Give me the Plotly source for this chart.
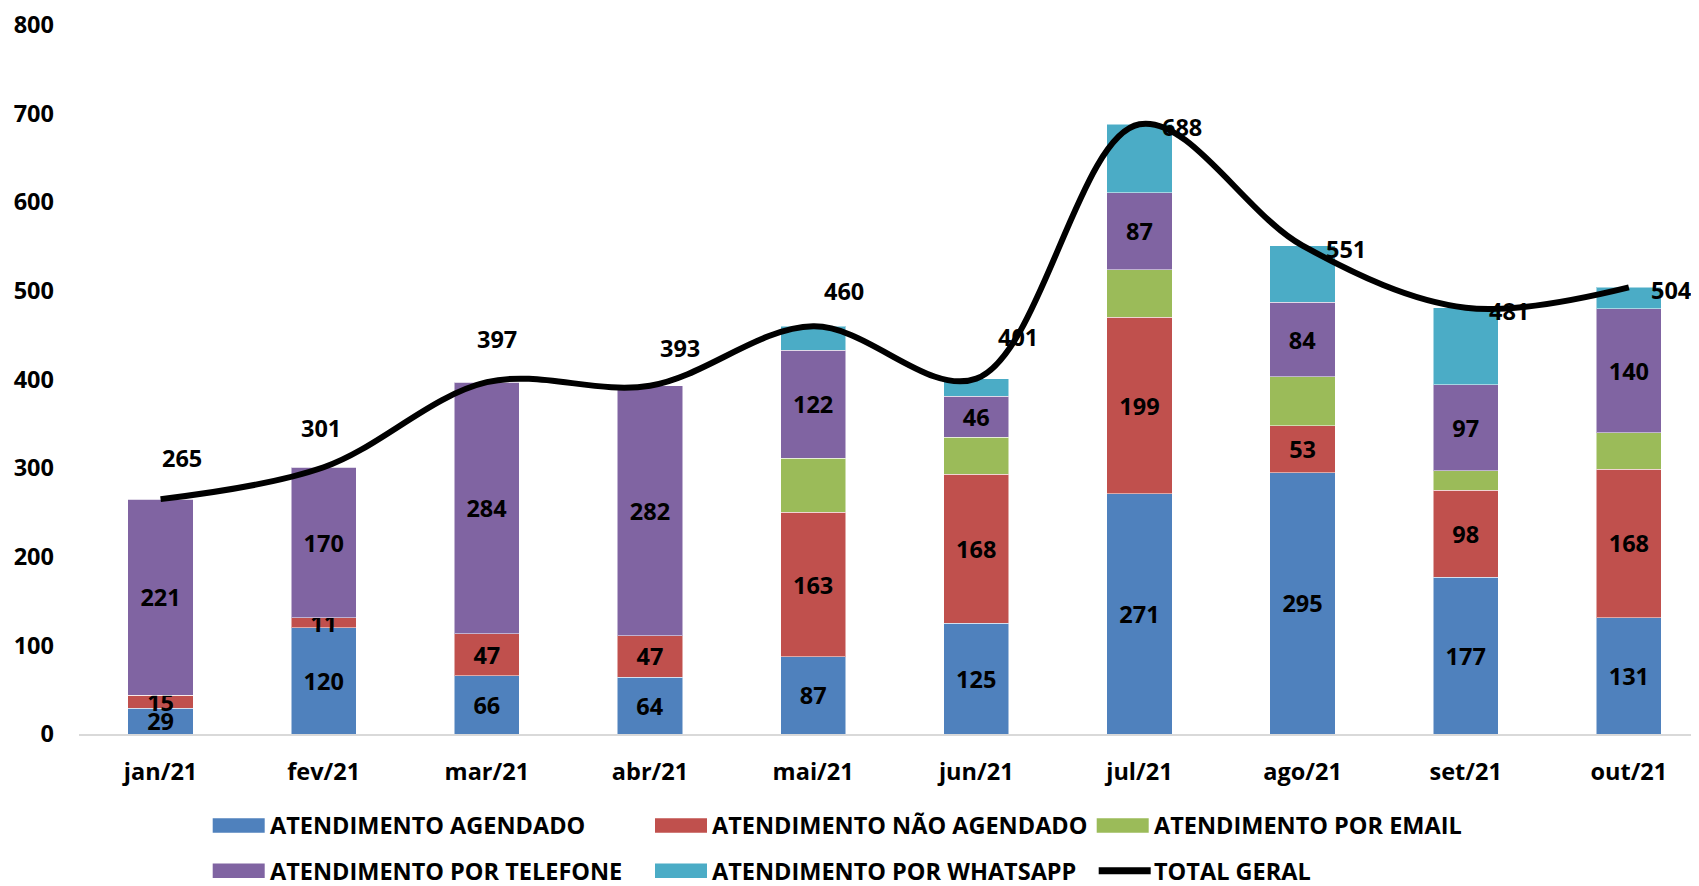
import plotly.graph_objects as go

months = ["jan/21", "fev/21", "mar/21", "abr/21", "mai/21", "jun/21", "jul/21", "ago/21", "set/21", "out/21"]
agendado = [29, 120, 66, 64, 87, 125, 271, 295, 177, 131]
nao_agendado = [15, 11, 47, 47, 163, 168, 199, 53, 98, 168]
email = [0, 0, 0, 0, 61, 42, 54, 55, 22, 41]
telefone = [221, 170, 284, 282, 122, 46, 87, 84, 97, 140]
whatsapp = [0, 0, 0, 0, 27, 20, 77, 64, 87, 24]
total_geral = [265, 301, 397, 393, 460, 401, 688, 551, 481, 504]

names = ["ATENDIMENTO AGENDADO", "ATENDIMENTO NÃO AGENDADO", "ATENDIMENTO POR EMAIL",
         "ATENDIMENTO POR TELEFONE", "ATENDIMENTO POR WHATSAPP", "TOTAL GERAL"]
colors = ["#4F81BD", "#C0504D", "#9BBB59", "#8064A2", "#4BACC6"]
show_labels = [True, True, False, True, False]

# label offsets for the total line (pixels)
total_xshift = [21, -3, 10, 30, 31, 42, 43, 43, 43, 43]
total_yshift = [41, 39, 43, 38, 35, 42, -3, -3, -3, -3]

FONT = "Open Sans"
FS = 23.5

# figure geometry (page has an 8px body margin)
W, H = 1691, 878
ML, MR, MT, MB = 71, 0, 17, 152
PW, PH = W - ML - MR, H - MT - MB


def px(xf):
    return (xf - ML) / PW


def py(yf):
    return (H - MB - yf) / PH


fig = go.Figure()
series = [agendado, nao_agendado, email, telefone, whatsapp]
for vals, name, col, lab in zip(series, names[:5], colors, show_labels):
    fig.add_trace(go.Bar(
        x=months, y=vals, name=name,
        marker=dict(color=col, line=dict(color="rgba(255,255,255,0.5)", width=1)),
        text=[str(v) for v in vals] if lab else None,
        textposition="inside" if lab else "none",
        insidetextanchor="middle",
        constraintext="none",
        textangle=0,
        textfont=dict(family=FONT, size=FS, color="black", weight="bold"),
        showlegend=False,
    ))

fig.add_trace(go.Scatter(
    x=months, y=total_geral, mode="lines", name=names[5],
    line=dict(color="black", width=6, shape="spline", smoothing=1.0),
    showlegend=False,
))

for m, t, dx, dy in zip(months, total_geral, total_xshift, total_yshift):
    fig.add_annotation(x=m, y=t, text=str(t), showarrow=False, xshift=dx, yshift=dy,
                       font=dict(family=FONT, size=FS, color="black", weight="bold"))

# legend (drawn as swatches + text, laid out in 2 rows x 3 columns)
col_x = [204.7, 647.0, 1088.7]
row_y = [817.5, 862.8]
sw_w, sw_h = 52, 14.5
shapes = []
for i, name in enumerate(names):
    r, c = divmod(i, 3)
    x0 = col_x[c]
    yc = row_y[r]
    if i < 5:
        shapes.append(dict(type="rect", xref="paper", yref="paper",
                           x0=px(x0), x1=px(x0 + sw_w), y0=py(yc + sw_h / 2), y1=py(yc - sw_h / 2),
                           fillcolor=colors[i], line=dict(width=0), layer="above"))
    else:
        shapes.append(dict(type="line", xref="paper", yref="paper",
                           x0=px(x0 + 2), x1=px(x0 + sw_w + 2), y0=py(yc), y1=py(yc),
                           line=dict(color="black", width=7), layer="above"))
    fig.add_annotation(xref="paper", yref="paper", x=px(x0 + sw_w + 4), y=py(yc),
                       xanchor="left", yanchor="middle", text=name, showarrow=False, borderpad=0,
                       font=dict(family=FONT, size=FS, color="black", weight="bold"))

fig.update_layout(
    width=W, height=H,
    margin=dict(l=ML, r=MR, t=MT, b=MB),
    barmode="stack", bargap=0.6,
    plot_bgcolor="white", paper_bgcolor="white",
    font=dict(family=FONT, size=FS, color="black", weight="bold"),
    xaxis=dict(showline=True, linecolor="#D9D9D9", linewidth=2, showgrid=False,
               range=[-0.5, 9.43], ticks="", ticklabelstandoff=16,
               tickfont=dict(family=FONT, size=FS, color="black", weight="bold")),
    yaxis=dict(range=[0, 800], dtick=100, showgrid=False, zeroline=False, showline=False,
               ticks="", ticklabelstandoff=24,
               tickfont=dict(family=FONT, size=FS, color="black", weight="bold")),
    shapes=shapes,
    showlegend=False,
)

fig.write_html("out.html")
